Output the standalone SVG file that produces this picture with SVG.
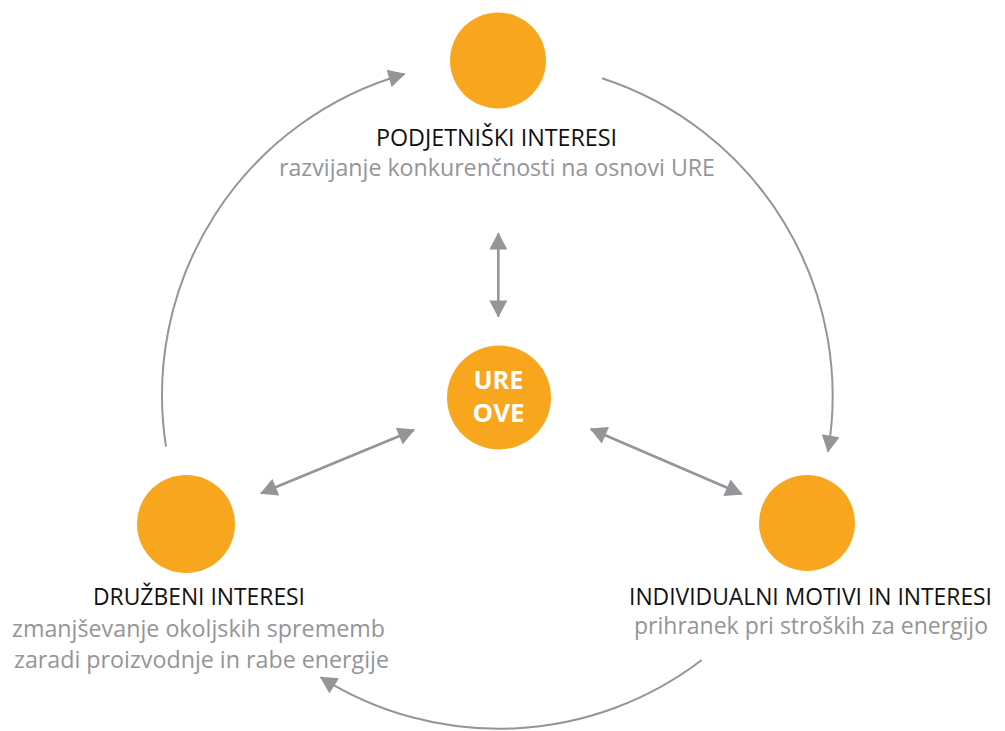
<svg xmlns="http://www.w3.org/2000/svg" width="1005" height="731" viewBox="0 0 1005 731">
<style>
  .node { fill: #F8A61D; }
  .title { font-family: "Open Sans", "Liberation Sans", sans-serif; font-size: 23px; fill: #111111; text-anchor: middle; }
  .sub { font-family: "Open Sans", "Liberation Sans", sans-serif; font-size: 23px; fill: #939598; text-anchor: middle; }
  .center { font-family: "Open Sans", "Liberation Sans", sans-serif; font-size: 25px; font-weight: bold; fill: #FFFFFF; text-anchor: middle; }
  .arc { fill: none; stroke: #939598; stroke-width: 2; }
  .dbl { fill: none; stroke: #939598; stroke-width: 2.6; }
</style>
<defs>
  <marker id="ah" markerUnits="userSpaceOnUse" markerWidth="18" markerHeight="18" viewBox="0 0 17 18" refX="16" refY="9" orient="auto-start-reverse">
    <path d="M0,0 L17,9 L0,18 Z" fill="#939598"/>
  </marker>
</defs>

<g id="connectors">
  <path class="arc" d="M166,446.7 A334,334 0 0 1 404.5,74" marker-end="url(#ah)"/>
  <path class="arc" d="M602,78.3 A334,334 0 0 1 828,451.5" marker-end="url(#ah)"/>
  <path class="arc" d="M701.7,660 A334,334 0 0 1 320.7,677.3" marker-end="url(#ah)"/>
  <line class="dbl" x1="498.3" y1="233.5" x2="498.3" y2="316.5" marker-start="url(#ah)" marker-end="url(#ah)"/>
  <line class="dbl" x1="261" y1="493.3" x2="414" y2="430" marker-start="url(#ah)" marker-end="url(#ah)"/>
  <line class="dbl" x1="590.7" y1="429" x2="741.7" y2="494" marker-start="url(#ah)" marker-end="url(#ah)"/>
</g>

<g id="node-podjetniski">
  <circle class="node" cx="498" cy="60.5" r="48"/>
  <text class="title" x="496.5" y="145.5" textLength="241" lengthAdjust="spacingAndGlyphs">PODJETNIŠKI INTERESI</text>
  <text class="sub" x="497" y="176" textLength="436" lengthAdjust="spacingAndGlyphs">razvijanje konkurenčnosti na osnovi URE</text>
</g>

<g id="node-ure-ove">
  <circle class="node" cx="499" cy="397.5" r="52"/>
  <text class="center" x="498.5" y="388.5" textLength="50" lengthAdjust="spacingAndGlyphs">URE</text>
  <text class="center" x="498.5" y="422" textLength="52" lengthAdjust="spacingAndGlyphs">OVE</text>
</g>

<g id="node-druzbeni">
  <circle class="node" cx="186" cy="524" r="49"/>
  <text class="title" x="199" y="605" textLength="212" lengthAdjust="spacingAndGlyphs">DRUŽBENI INTERESI</text>
  <text class="sub" x="198.5" y="636.5" textLength="373" lengthAdjust="spacingAndGlyphs">zmanjševanje okoljskih sprememb</text>
  <text class="sub" x="201.5" y="667.5" textLength="375" lengthAdjust="spacingAndGlyphs">zaradi proizvodnje in rabe energije</text>
</g>

<g id="node-individualni">
  <circle class="node" cx="807" cy="523" r="48"/>
  <text class="title" x="810.5" y="605" textLength="363" lengthAdjust="spacingAndGlyphs">INDIVIDUALNI MOTIVI IN INTERESI</text>
  <text class="sub" x="811" y="634" textLength="354" lengthAdjust="spacingAndGlyphs">prihranek pri stroških za energijo</text>
</g>
</svg>
